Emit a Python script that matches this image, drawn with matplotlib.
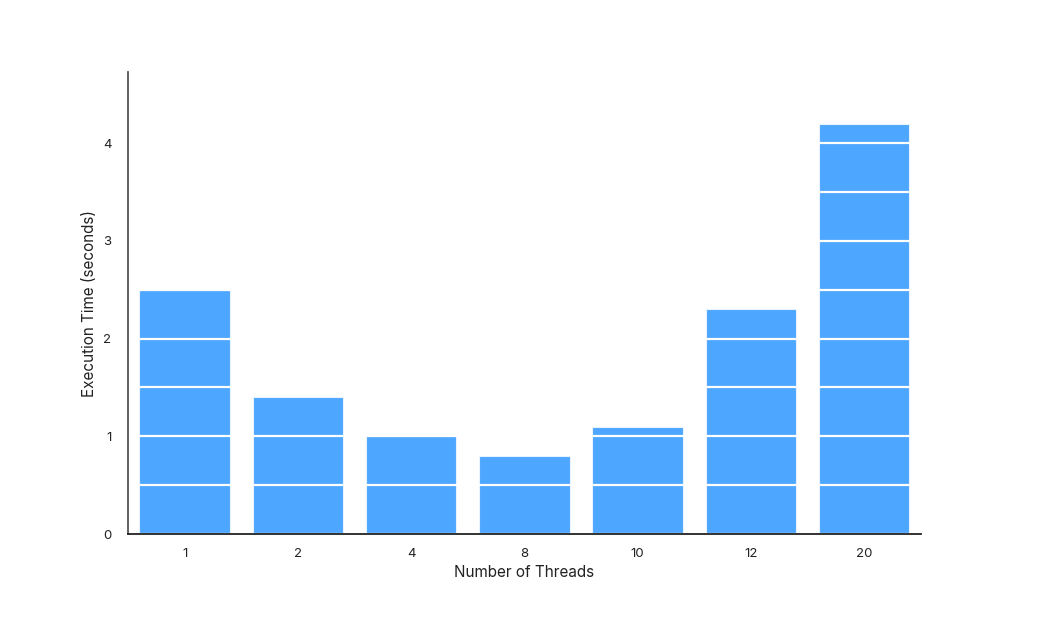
import matplotlib
matplotlib.use("Agg")
import matplotlib.pyplot as plt

# data
threads = ["1", "2", "4", "8", "10", "12", "20"]
exec_time = [2.5, 1.4, 1.0, 0.8, 1.1, 2.3, 4.2]

plt.rcParams['font.family'] = ['Inter', 'DejaVu Sans']

fig = plt.figure(figsize=(10.44, 6.19), dpi=100)
ax = fig.add_axes([0.1226, 0.1373, 0.7594, 0.7464])

ax.bar(range(len(threads)), exec_time, width=0.8, color="#4da6ff",
       edgecolor="#e6f2ff", linewidth=0.8, zorder=2)

# white gridlines every 0.5, only visible over the bars
ax.set_yticks([0, 1, 2, 3, 4])
ax.set_yticks([0.5, 1.5, 2.5, 3.5], minor=True)
ax.grid(axis='y', which='both', color='white', linewidth=1.6, zorder=3)
ax.set_axisbelow(False)

ax.set_xticks(range(len(threads)))
ax.set_xticklabels(threads)
ax.set_xlim(-0.5, len(threads) - 0.5)
ax.set_ylim(0, 4.73)

ax.tick_params(axis='both', which='both', length=0, labelsize=9.5,
               labelcolor="#222222", pad=10)
ax.tick_params(axis='y', pad=12)

for s in ['top', 'right']:
    ax.spines[s].set_visible(False)
ax.spines['left'].set_color("#555555")
ax.spines['left'].set_linewidth(1.3)
ax.spines['bottom'].set_color("#222222")
ax.spines['bottom'].set_linewidth(1.3)
for s in ['left', 'bottom']:
    ax.spines[s].set_zorder(5)

ax.set_xlabel("Number of Threads", fontsize=11, color="#222222", labelpad=4)
ax.set_ylabel("Execution Time (seconds)", fontsize=11, color="#222222", labelpad=4)

fig.savefig("out.png", dpi=100)
